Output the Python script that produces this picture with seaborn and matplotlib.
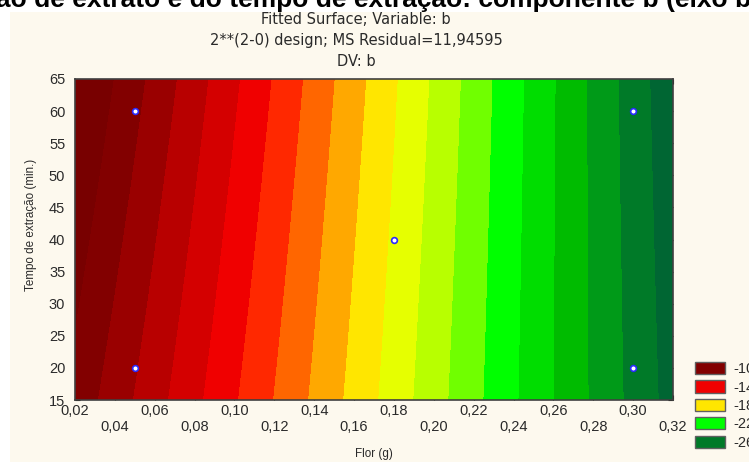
import numpy as np
import matplotlib
matplotlib.use('Agg')
import matplotlib.pyplot as plt
from matplotlib.patches import Rectangle, Patch
import seaborn as sns

# design points: flor (g), extraction time (min) and measured b
flor = [0.05, 0.05, 0.30, 0.30, 0.18]
tempo = [20, 60, 20, 60, 40]
b_obs = [-10.19, -9.08, -24.50, -24.65, -21.27]

# contour boundaries (high to low) and the colour of each band, left to right
levels = [-9, -10, -11, -12, -13, -14, -15, -16, -17, -18,
          -19, -20, -21, -22, -23, -24, -25, -26]
band_colors = ['#780000', '#820000', '#9a0000', '#b80000', '#d40000',
               '#f00000', '#ff2800', '#ff6600', '#ffa800', '#ffe600',
               '#e6ff00', '#b8ff00', '#70ff00', '#00ff00', '#00dd00',
               '#00bb00', '#009a18', '#007a28', '#006633']

legend_labels = ['-10', '-14', '-18', '-22', '-26']
legend_colors = ['#820000', '#f00000', '#ffe600', '#00ff00', '#007a28']

x_ticks = [0.02, 0.04, 0.06, 0.08, 0.10, 0.12, 0.14, 0.16,
           0.18, 0.20, 0.22, 0.24, 0.26, 0.28, 0.30, 0.32]
y_ticks = [15, 20, 25, 30, 35, 40, 45, 50, 55, 60, 65]

sns.set_style('ticks')
plt.rcParams['font.family'] = ['Liberation Sans', 'DejaVu Sans']
txt = '#2a2a2a'

W, H = 749, 462
fig = plt.figure(figsize=(W / 100, H / 100), dpi=100)
fig.patch.set_facecolor('white')
fig.add_artist(Rectangle((10 / W, 0), 1, 1 - 12 / H, transform=fig.transFigure,
                         facecolor='#fdf9ee', edgecolor='none', zorder=-10))

ax = fig.add_axes([75 / W, 62 / H, 598 / W, 321 / H])

# fit b = b0 + b1*x + b2*y + b12*x*y on the design points
A = np.column_stack([np.ones(5), flor, tempo, np.multiply(flor, tempo)])
coef, *_ = np.linalg.lstsq(A, np.array(b_obs), rcond=None)

gx = np.linspace(0.02, 0.32, 400)
gy = np.linspace(15, 65, 250)
X, Y = np.meshgrid(gx, gy)
Z = coef[0] + coef[1] * X + coef[2] * Y + coef[3] * X * Y

edges = [-60] + sorted(levels) + [10]
ax.contourf(X, Y, Z, levels=edges, colors=band_colors[::-1], antialiased=False)

sns.scatterplot(x=flor, y=tempo, ax=ax, marker='o', s=17, color='white',
                edgecolor='#2a2aff', linewidth=1.2, zorder=5, legend=False)

ax.set_xlim(0.02, 0.32)
ax.set_ylim(15, 65)
ax.set_xticks(x_ticks)
ax.set_xticklabels([('' if i % 2 == 0 else '\n') + f'{t:.2f}'.replace('.', ',')
                    for i, t in enumerate(x_ticks)])
ax.set_yticks(y_ticks)
ax.tick_params(direction='in', top=True, right=True, length=3.5, width=0.8,
               color='black', labelsize=10.5, labelcolor=txt)
ax.tick_params(axis='x', pad=3)
ax.tick_params(axis='y', pad=7)
for sp in ax.spines.values():
    sp.set_color('#404040')
    sp.set_linewidth(1.2)

ax.set_ylabel('Tempo de extração (min.)', fontsize=8.4, color=txt)
ax.yaxis.set_label_coords(-0.0635, 0.545)
ax.set_xlabel('Flor (g)', fontsize=8.4, color=txt)
ax.xaxis.set_label_coords(0.5, -0.148)

title_font = dict(ha='center', va='center', fontsize=10.5, color=txt, family='DejaVu Sans')
fig.text(356 / W, 1 - 19.5 / H, 'Fitted Surface; Variable: b', **title_font)
fig.text(356 / W, 1 - 41 / H, '2**(2-0) design; MS Residual=11,94595', **title_font)
fig.text(356 / W, 1 - 62 / H, 'DV: b', **title_font)

fig.text(-4 / W, 1 - 7.5 / H, 'ão de extrato e do tempo de extração: componente b (eixo b*)',
         ha='left', va='baseline', fontsize=19, fontweight='bold', color='black')

handles = [Patch(facecolor=c, edgecolor='#606060', linewidth=1) for c in legend_colors]
fig.legend(handles, legend_labels, loc='upper left', bbox_to_anchor=(695 / W, 1 - 362 / H),
           frameon=False, fontsize=10.5, handlelength=2.06, handleheight=0.9,
           labelspacing=0.3, handletextpad=0.55, borderpad=0, borderaxespad=0,
           labelcolor=txt)

fig.savefig('out.png', dpi=100, facecolor='white')
